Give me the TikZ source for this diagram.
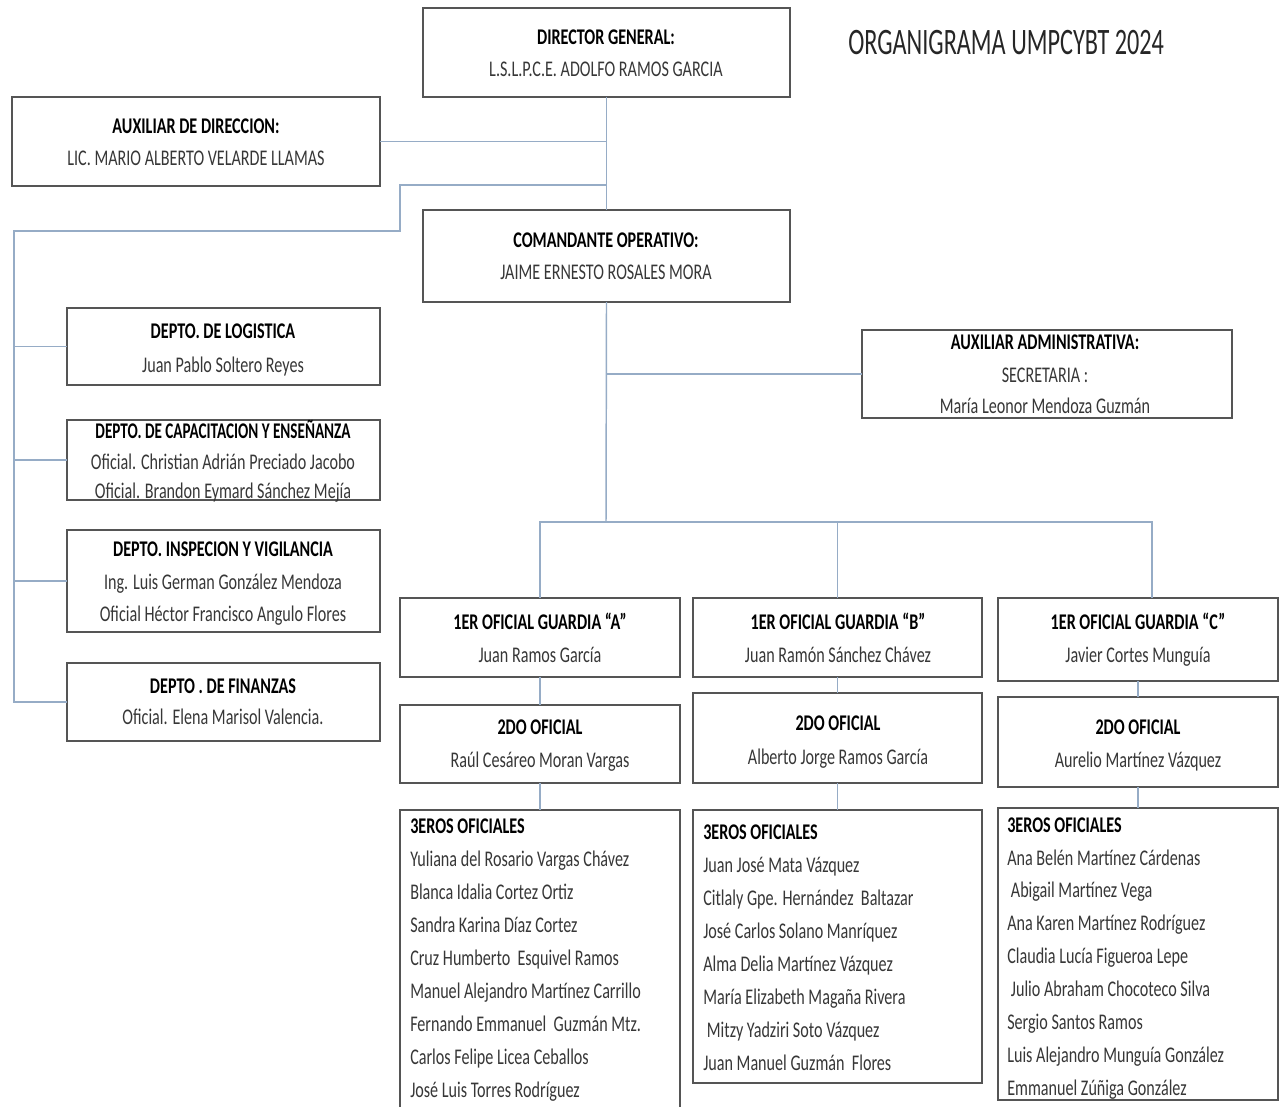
\documentclass[tikz,border=0pt]{standalone}
\usepackage{fontspec}
\setmainfont{Carlito}[FakeStretch=0.72]
\newfontfamily\titlefont{Carlito}[FakeStretch=0.65]
\usetikzlibrary{fit}
\definecolor{boxc}{RGB}{85,85,85}
\definecolor{linec}{RGB}{150,172,198}
\definecolor{txtc}{RGB}{55,55,55}
\newcommand{\fs}{\fontsize{16.8}{19}\selectfont}
\newcommand{\mkbox}[5]{%
  \path (#2,#3) coordinate (#1-nw) (#4,#5) coordinate (#1-se);
  \node[box, fit=(#1-nw)(#1-se)] (#1) {};}
\tikzset{
  box/.style={draw=boxc, line width=1.6pt, fill=white, inner sep=0pt, outer sep=0pt, rectangle},
  conn/.style={draw=linec, line width=1.1pt},
  hd/.style={font=\bfseries\fs, anchor=mid, inner sep=0pt, text=black, yshift=-3pt},
  tx/.style={font=\fs, anchor=mid, inner sep=0pt, text=txtc, yshift=-3pt},
  lt/.style={font=\fs, anchor=mid west, inner sep=0pt, text=txtc, yshift=-3pt},
  lh/.style={font=\bfseries\fs, anchor=mid west, inner sep=0pt, text=black, yshift=-3pt},
  ttl/.style={font=\titlefont\fontsize{28}{30}\selectfont, anchor=mid west, inner sep=0pt, text=black!85}
}
\begin{document}
\begin{tikzpicture}[x=0.75pt,y=-0.75pt]
\clip (0,0) rectangle (1280,1106);
\fill[white] (0,0) rectangle (1280,1106);
% boxes
\mkbox{dg}{423}{8}{790}{97}
\mkbox{auxd}{12}{97}{380}{186}
\mkbox{com}{423}{210}{790}{302}
\mkbox{adm}{862}{330}{1232}{418}
\mkbox{log}{67}{308}{380}{385}
\mkbox{cap}{67}{420}{380}{500}
\mkbox{insp}{67}{530}{380}{632}
\mkbox{fin}{67}{663}{380}{741}
\mkbox{gA}{400}{598}{680}{677}
\mkbox{gB}{693}{598}{982}{677}
\mkbox{gC}{998}{598}{1278}{681}
\mkbox{sA}{400}{705}{680}{783}
\mkbox{sB}{693}{693}{982}{783}
\mkbox{sC}{998}{697}{1278}{787}
\mkbox{tA}{400}{810}{680}{1120}
\mkbox{tB}{693}{810}{982}{1083}
\mkbox{tC}{998}{808}{1278}{1100}
% coordinates
\coordinate (j2) at (606,185);
\coordinate (k1) at (400,185);
\coordinate (k2) at (400,231);
\coordinate (k3) at (14,231);
\coordinate (bus) at (606,522);
\coordinate (cdrop) at (1152,522);
% connectors
\draw[conn] (dg.south) -- (com.north);
\draw[conn] (auxd.east) -- (auxd.east -| dg.south);
\draw[conn] (j2) -- (k1) -- (k2) -- (k3) -- (k3 |- fin.west) -- (fin.west);
\draw[conn] (k3 |- log.west) -- (log.west);
\draw[conn] (k3 |- cap.west) -- (cap.west);
\draw[conn] (k3 |- insp.west) -- (insp.west);
\draw[conn] (com.south) -- (bus);
\draw[conn] (com.south |- adm.west) -- (adm.west);
\draw[conn] (gA.north) |- (cdrop) -- (cdrop |- gC.north);
\draw[conn] (gB.north) -- (gB.north |- bus);
\draw[conn] (gA.south) -- (sA.north);
\draw[conn] (gB.south) -- (sB.north);
\draw[conn] (gC.south) -- (sC.north);
\draw[conn] (sA.south) -- (tA.north);
\draw[conn] (sB.south) -- (tB.north);
\draw[conn] (sC.south) -- (tC.north);
% title
\node[ttl] (title) at (848,51) {ORGANIGRAMA UMPCYBT 2024};
% texts
\node[hd] (dg1) at (606,37) {DIRECTOR GENERAL:};
\node[tx] (dg2) at (606,69) {L.S.L.P.C.E. ADOLFO RAMOS GARCIA};
\node[hd] (ad1) at (196,126) {AUXILIAR DE DIRECCION:};
\node[tx] (ad2) at (196,158) {LIC. MARIO ALBERTO VELARDE LLAMAS};
\node[hd] (co1) at (606,240) {COMANDANTE OPERATIVO:};
\node[tx] (co2) at (606,272) {JAIME ERNESTO ROSALES MORA};
\node[hd] (am1) at (1045,342) {AUXILIAR ADMINISTRATIVA:};
\node[tx] (am2) at (1045,375) {SECRETARIA :};
\node[tx] (am3) at (1045,406) {María Leonor Mendoza Guzmán};
\node[hd] (lg1) at (223,331) {DEPTO. DE LOGISTICA};
\node[tx] (lg2) at (223,365) {Juan Pablo Soltero  Reyes};
\node[hd, transform shape, xscale=0.94] (cp1) at (223,431) {DEPTO. DE CAPACITACION Y ENSEÑANZA};
\node[tx] (cp2) at (223,462) {Oficial. Christian Adrián Preciado Jacobo};
\node[tx] (cp3) at (223,491) {Oficial. Brandon Eymard Sánchez Mejía};
\node[hd] (in1) at (223,549) {DEPTO. INSPECION Y VIGILANCIA};
\node[tx] (in2) at (223,582) {Ing. Luis German González Mendoza};
\node[tx] (in3) at (223,614) {Oficial Héctor Francisco Angulo Flores};
\node[hd] (fn1) at (223,686) {DEPTO . DE FINANZAS};
\node[tx] (fn2) at (223,717) {Oficial. Elena Marisol Valencia.};
\node[hd] (ga1) at (540,622) {1ER OFICIAL GUARDIA “A”};
\node[tx] (ga2) at (540,655) {Juan Ramos García};
\node[hd] (gb1) at (838,622) {1ER OFICIAL GUARDIA “B”};
\node[tx] (gb2) at (838,655) {Juan Ramón Sánchez Chávez};
\node[hd] (gc1) at (1138,622) {1ER OFICIAL GUARDIA “C”};
\node[tx] (gc2) at (1138,655) {Javier Cortes Munguía};
\node[hd] (sa1) at (540,727) {2DO OFICIAL};
\node[tx] (sa2) at (540,760) {Raúl Cesáreo Moran Vargas};
\node[hd] (sb1) at (838,723) {2DO OFICIAL};
\node[tx] (sb2) at (838,757) {Alberto Jorge Ramos García};
\node[hd] (sc1) at (1138,727) {2DO OFICIAL};
\node[tx] (sc2) at (1138,760) {Aurelio Martínez Vázquez};
% 3eros A
\node[lh] (ta0) at (410,826) {3EROS OFICIALES};
\foreach \t [count=\i] in {Yuliana del Rosario Vargas Chávez, Blanca Idalia Cortez Ortiz, Sandra Karina Díaz Cortez, Cruz Humberto\ \ Esquivel Ramos, Manuel Alejandro Martínez Carrillo, Fernando Emmanuel\ \ Guzmán Mtz., Carlos Felipe Licea Ceballos, José Luis Torres Rodríguez}
  \node[lt] (ta\i) at (410,826+33*\i) {\t};
% 3eros B
\node[lh] (tb0) at (703,832) {3EROS OFICIALES};
\foreach \t [count=\i] in {Juan José Mata Vázquez, Citlaly Gpe. Hernández\ \ Baltazar, José Carlos Solano Manríquez, Alma Delia Martínez Vázquez, María Elizabeth Magaña Rivera, \ Mitzy Yadziri Soto Vázquez, Juan Manuel Guzmán\ \ Flores}
  \node[lt] (tb\i) at (703,832+33*\i) {\t};
% 3eros C
\node[lh] (tc0) at (1007,825) {3EROS OFICIALES};
\foreach \t [count=\i] in {Ana Belén Martínez Cárdenas, \ Abigail Martínez Vega, Ana Karen Martínez Rodríguez, Claudia Lucía Figueroa Lepe, \ Julio Abraham Chocoteco Silva, Sergio Santos Ramos, Luis Alejandro Munguía González, Emmanuel Zúñiga González}
  \node[lt] (tc\i) at (1007,825+32.9*\i) {\t};
\end{tikzpicture}
\end{document}
